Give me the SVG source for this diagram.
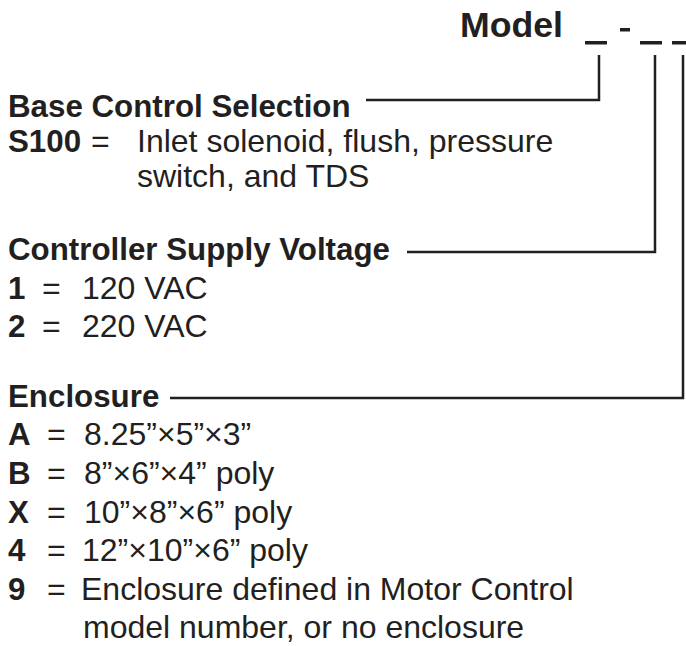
<svg xmlns="http://www.w3.org/2000/svg" width="686" height="646" viewBox="0 0 686 646">
<style>
text{font-family:"Liberation Sans",Arial,Helvetica,sans-serif;fill:#231f20;font-size:32px}
.b{font-weight:bold;font-size:31.3px}
.conn{fill:none;stroke:#231f20;stroke-width:2.5}
.mark{fill:#231f20}
</style>
<rect width="686" height="646" fill="#fff"/>
<g id="model">
<text class="b" x="460" y="37" style="font-size:35px" textLength="103" lengthAdjust="spacingAndGlyphs">Model</text>
<rect class="mark" x="585" y="41" width="22" height="3.5"/>
<rect class="mark" x="620" y="28" width="10" height="3.5"/>
<rect class="mark" x="640" y="41" width="22" height="3.5"/>
<rect class="mark" x="672" y="41" width="14" height="3.5"/>
</g>
<g id="connectors">
<polyline class="conn" points="599,55 599,100 366,100"/>
<polyline class="conn" points="655,55 655,252 407,252"/>
<polyline class="conn" points="683,55 683,398 170,398"/>
</g>
<g id="base-control">
<text class="b" x="8" y="117">Base Control Selection</text>
<text class="b" x="8" y="152">S100</text>
<text x="91" y="152">=</text>
<text x="137" y="152">Inlet solenoid, flush, pressure</text>
<text x="137" y="187">switch, and TDS</text>
</g>
<g id="supply-voltage">
<text class="b" x="8" y="260">Controller Supply Voltage</text>
<text class="b" x="8" y="299">1</text>
<text x="42" y="299">=</text>
<text x="82" y="299">120 VAC</text>
<text class="b" x="8" y="337">2</text>
<text x="42" y="337">=</text>
<text x="82" y="337">220 VAC</text>
</g>
<g id="enclosure">
<text class="b" x="8" y="407">Enclosure</text>
<text class="b" x="8" y="445">A</text>
<text x="47" y="445">=</text>
<text x="84" y="445">8.25”×5”×3”</text>
<text class="b" x="8" y="484">B</text>
<text x="47" y="484">=</text>
<text x="84" y="484">8”×6”×4” poly</text>
<text class="b" x="8" y="523">X</text>
<text x="47" y="523">=</text>
<text x="84" y="523">10”×8”×6” poly</text>
<text class="b" x="8" y="561">4</text>
<text x="47" y="561">=</text>
<text x="82" y="561">12”×10”×6” poly</text>
<text class="b" x="8" y="600">9</text>
<text x="47" y="600">=</text>
<text x="81" y="600">Enclosure defined in Motor Control</text>
<text x="83" y="638">model number, or no enclosure</text>
</g>
</svg>
